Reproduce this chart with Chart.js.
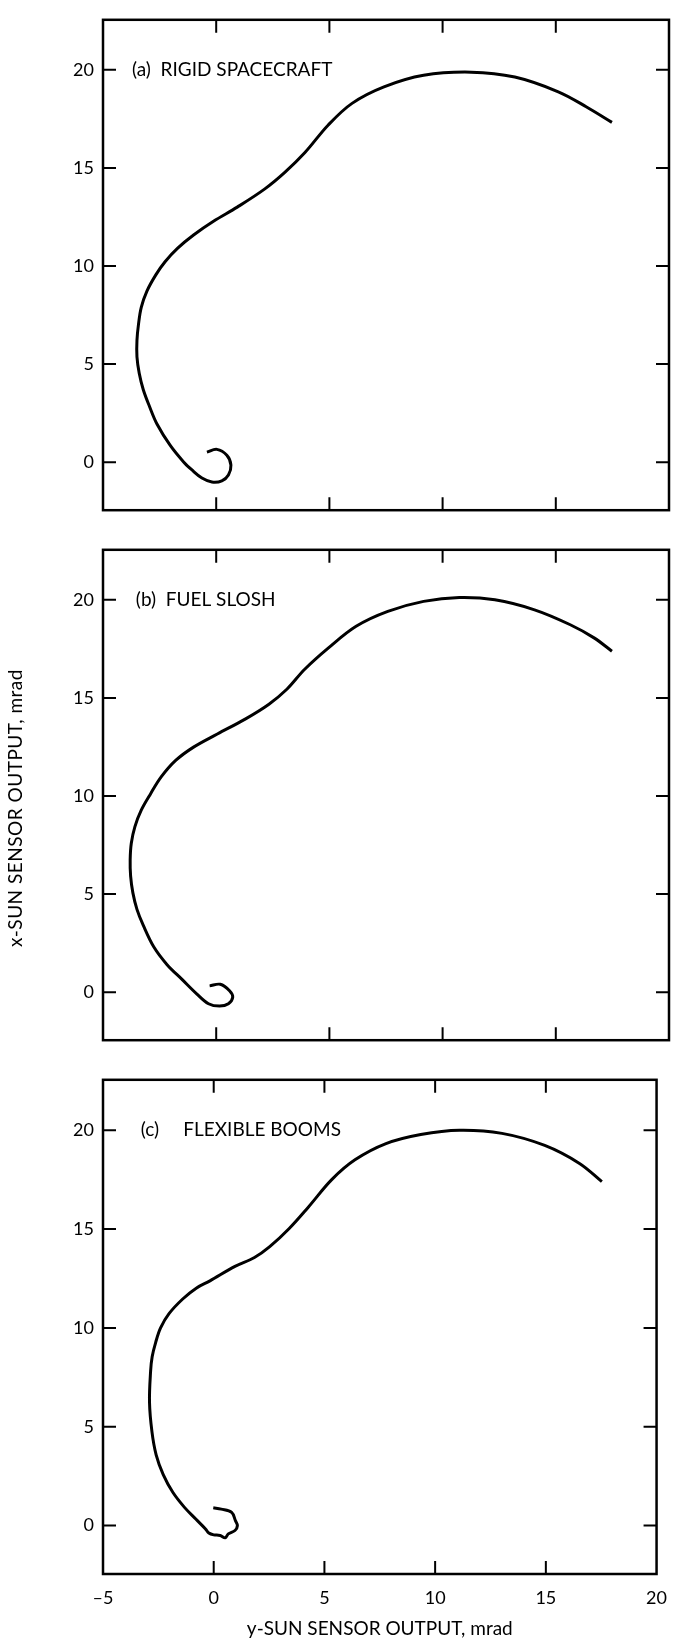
<!DOCTYPE html>
<html>
<head>
<meta charset="utf-8">
<script src="https://cdn.jsdelivr.net/npm/chart.js@4.4.0/dist/chart.umd.min.js"></script>
<style>
  body { margin: 0; background: #fff; width: 680px; height: 1642px; position: relative; overflow: hidden; }
  canvas { position: absolute; left: 0; }
  #yTitle {
    position: absolute; left: -136px; top: 797px; width: 300px; height: 22px; line-height: 22px;
    text-align: center; transform: rotate(-90deg);
    white-space: nowrap; font: 19px Lato, sans-serif; letter-spacing: 0.5px; color: #000;
  }
</style>
</head>
<body>
<canvas id="chartA" width="680" height="530" style="top:0px"></canvas>
<canvas id="chartB" width="680" height="530" style="top:530px"></canvas>
<canvas id="chartC" width="680" height="582" style="top:1060px"></canvas>
<div id="yTitle">x-SUN SENSOR OUTPUT, mrad</div>

<script>
// tick values (mrad)
const xTicks = [-5, 0, 5, 10, 15, 20];
const yTicks = [0, 5, 10, 15, 20];
const xTitle = 'y-SUN SENSOR OUTPUT, mrad';

// panel captions, drawn at the y = 20 level
const panelLabels = ['(a)  RIGID SPACECRAFT', '(b)  FUEL SLOSH', '(c)     FLEXIBLE BOOMS'];
const labelX = [-3.72, -3.55, -3.3];

// (a) rigid spacecraft : y-sun (horizontal) and x-sun (vertical)
const rigidYSun = [-0.41, 0.03, 0.47, 0.65, 0.54, 0.25, -0.19, -0.63, -1.07, -1.44, -2.03, -2.61,
  -2.95, -3.22, -3.40, -3.50, -3.50, -3.43, -3.31, -3.06, -2.66, -2.25, -1.70, -1.0, -0.12, 0.93, 2.15,
  3.03, 3.91, 4.96, 6.0, 7.41, 9.16, 11.26, 13.19, 15.11, 16.34, 17.48];
const rigidXSun = [0.51, 0.65, 0.35, -0.15, -0.65, -0.95, -1.01, -0.81, -0.40, 0.01, 0.85, 1.93,
  2.85, 3.69, 4.53, 5.37, 6.21, 7.05, 7.89, 8.72, 9.56, 10.23, 10.91, 11.58, 12.28, 13.0, 13.93,
  14.77, 15.77, 17.2, 18.29, 19.13, 19.72, 19.88, 19.63, 18.88, 18.12, 17.32];

// (b) fuel slosh
const sloshYSun = [-0.29, 0.18, 0.59, 0.73, 0.54, 0.15, -0.34, -0.85, -1.51, -2.17, -2.76, -3.22,
  -3.50, -3.68, -3.78, -3.80, -3.75, -3.59, -3.31, -2.89, -2.43, -1.79, -1.0, 0.05, 1.28, 2.33, 3.12,
  3.91, 4.96, 6.18, 7.58, 9.16, 10.74, 12.31, 14.06, 15.64, 16.69, 17.48];
const sloshXSun = [0.32, 0.40, 0.07, -0.26, -0.59, -0.71, -0.59, -0.10, 0.65, 1.40, 2.31, 3.40,
  4.22, 5.06, 5.91, 6.75, 7.59, 8.44, 9.28, 10.13, 10.97, 11.81, 12.49, 13.16, 13.92, 14.68, 15.44,
  16.46, 17.55, 18.65, 19.41, 19.92, 20.12, 20.0, 19.49, 18.73, 18.06, 17.38];

// (c) flexible booms
const boomsYSun = [-0.02, 0.34, 0.81, 0.98, 1.07, 0.96, 0.66, 0.52, 0.29, 0.0, -0.22, -0.37, -0.81,
  -1.32, -1.84, -2.28, -2.6, -2.79, -2.9, -2.85, -2.78, -2.62, -2.40, -2.01, -1.40, -0.79, -0.17, 0.96,
  1.84, 2.53, 3.41, 4.28, 5.33, 6.38, 7.78, 9.35, 11.1, 13.02, 14.95, 16.52, 17.53];
const boomsXSun = [0.9, 0.83, 0.67, 0.25, 0.0, -0.25, -0.42, -0.62, -0.5, -0.47, -0.38, -0.17, 0.33,
  0.92, 1.67, 2.58, 3.58, 4.75, 6.25, 7.81, 8.54, 9.27, 10.0, 10.73, 11.46, 12.01, 12.38, 13.11,
  13.56, 14.11, 15.03, 16.12, 17.5, 18.5, 19.32, 19.78, 20.0, 19.84, 19.23, 18.32, 17.4];

const FONT = 'Lato';

// frame round the plot area with inward ticks on all four sides
const framePlugin = {
  id: 'frame',
  afterDatasetsDraw(chart) {
    const { ctx, chartArea: a, scales: { x, y } } = chart;
    const len = 13;
    ctx.save();
    ctx.strokeStyle = '#000';
    ctx.lineWidth = 2.5;
    ctx.strokeRect(a.left, a.top, a.right - a.left, a.bottom - a.top);
    ctx.lineWidth = 2;
    ctx.beginPath();
    yTicks.forEach(v => {
      const py = y.getPixelForValue(v);
      ctx.moveTo(a.left, py); ctx.lineTo(a.left + len, py);
      ctx.moveTo(a.right, py); ctx.lineTo(a.right - len, py);
    });
    xTicks.slice(1, -1).forEach(v => {
      const px = x.getPixelForValue(v);
      ctx.moveTo(px, a.top); ctx.lineTo(px, a.top + len);
      ctx.moveTo(px, a.bottom); ctx.lineTo(px, a.bottom - len);
    });
    ctx.stroke();
    // caption
    const o = chart.options.plugins.frame;
    ctx.fillStyle = '#000';
    ctx.font = '19px ' + FONT;
    ctx.textBaseline = 'middle';
    ctx.fillText(o.text, x.getPixelForValue(o.at), y.getPixelForValue(20));
    ctx.restore();
  }
};

function makeChart(id, xs, ys, idx, o) {
  const pts = xs.map((v, i) => ({ x: v, y: ys[i] }));
  return new Chart(document.getElementById(id), {
    type: 'scatter',
    data: {
      datasets: [{
        data: pts, showLine: true, borderColor: '#000', borderWidth: 3,
        pointRadius: 0, tension: 0.35, fill: false
      }]
    },
    options: {
      responsive: false,
      animation: false,
      layout: { padding: { top: o.top, right: 11, bottom: o.bottom, left: 0 } },
      plugins: {
        legend: { display: false },
        tooltip: { enabled: false },
        frame: { text: panelLabels[idx], at: labelX[idx] }
      },
      scales: {
        x: {
          type: 'linear', min: -5, max: 20,
          afterBuildTicks: s => { s.ticks = xTicks.map(v => ({ value: v })); },
          afterFit: s => { s.height = o.xHeight; },
          grid: { display: false, drawTicks: false },
          border: { display: false },
          ticks: {
            display: o.xLabels, padding: 13, maxRotation: 0, color: '#000',
            font: { family: FONT, size: 18 },
            callback: v => v < 0 ? '–' + Math.abs(v) : String(v)
          },
          title: {
            display: o.xLabels, text: xTitle, color: '#000',
            font: { family: FONT, size: 19 }, padding: { top: 0, bottom: 2 }
          }
        },
        y: {
          type: 'linear', min: -2.45, max: 22.55,
          afterBuildTicks: s => { s.ticks = yTicks.map(v => ({ value: v })); },
          afterFit: s => { s.width = 103; },
          grid: { display: false, drawTicks: false },
          border: { display: false },
          ticks: { padding: 9, color: '#000', font: { family: FONT, size: 18 } }
        }
      }
    },
    plugins: [framePlugin]
  });
}

makeChart('chartA', rigidYSun, rigidXSun, 0, { top: 10, bottom: 19, xHeight: 0, xLabels: false });
makeChart('chartB', sloshYSun, sloshXSun, 1, { top: 12, bottom: 15, xHeight: 0, xLabels: false });
makeChart('chartC', boomsYSun, boomsXSun, 2, { top: 14, bottom: 0, xHeight: 68, xLabels: true });
</script>
</body>
</html>
